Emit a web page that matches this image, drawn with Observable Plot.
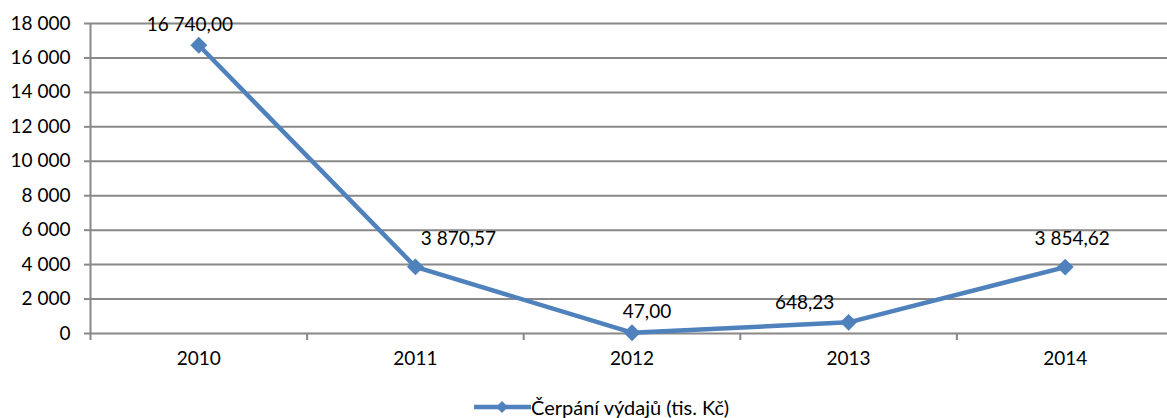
<!DOCTYPE html>
<html>
<head>
<meta charset="utf-8">
<script src="https://cdn.jsdelivr.net/npm/d3@7"></script>
<script src="https://cdn.jsdelivr.net/npm/@observablehq/plot@0.6"></script>
<style>
  html, body { margin: 0; padding: 0; background: #fff; overflow: hidden; }
  #chart svg { display: block; }
  #legend { position: relative; height: 28px; font-family: Lato, "Open Sans", sans-serif; font-size: 20px; color: #000; }
  #legend .item { position: absolute; left: 474px; top: 5px; display: flex; align-items: center; white-space: nowrap; }
</style>
</head>
<body>
<div id="chart"></div>
<div id="legend"><div class="item"><svg width="57" height="16" style="display:block"><line x1="0" y1="8" x2="57" y2="8" stroke="#4f81bd" stroke-width="4.5"/><path d="M28,2 L34,8 L28,14 L22,8 Z" fill="#4f81bd"/></svg><span>Čerpání výdajů (tis. Kč)</span></div></div>
<script>
const years = [2010, 2011, 2012, 2013, 2014];
const values = [16740.00, 3870.57, 47.00, 648.23, 3854.62];
const seriesName = "Čerpání výdajů (tis. Kč)";
const yTicks = [0, 2000, 4000, 6000, 8000, 10000, 12000, 14000, 16000, 18000];

const data = years.map((y, i) => ({year: y, value: values[i]}));
const cz = d3.formatLocale({decimal: ",", thousands: " ", grouping: [3], currency: ["", " Kč"]});
const fmtTick = cz.format(",.0f");
const fmtVal = cz.format(",.2f");
const blue = "#4f81bd";
const grid = "#888888";
const boundaries = [years[0] - 0.5, ...years.slice(0, -1).map(y => y + 0.5)];

// per-label offsets (styling, mirrors the manually placed labels)
const labelOffsets = [[-9, -20], [43, -28], [15, -21], [-44, -19], [7, -28]];

const labelMarks = data.map((d, i) => Plot.text([d], {
  x: "year", y: "value", text: d => fmtVal(d.value),
  dx: labelOffsets[i][0], dy: labelOffsets[i][1],
  fontSize: 19, fill: "#000"
}));

const chart = Plot.plot({
  width: 1167,
  height: 390,
  marginLeft: 90,
  marginRight: -6,
  marginTop: 23,
  marginBottom: 57,
  style: {fontFamily: "Lato, 'Open Sans', sans-serif", background: "#fff"},
  x: {type: "linear", domain: [years[0] - 0.5, years[years.length - 1] + 0.5]},
  y: {domain: [0, 18000]},
  marks: [
    Plot.gridY(yTicks, {stroke: grid, strokeOpacity: 1, strokeWidth: 2}),
    Plot.ruleX([years[0] - 0.5], {y1: 0, y2: 18000, stroke: grid, strokeWidth: 2}),
    Plot.axisY({ticks: yTicks, tickFormat: fmtTick, tickSize: 6, tickPadding: 14, stroke: grid, strokeWidth: 2, fontSize: 19, color: "#000", label: null}),
    Plot.axisX({ticks: boundaries, tickFormat: () => "", tickSize: 7, stroke: grid, strokeWidth: 2, label: null}),
    Plot.axisX({ticks: years, tickFormat: d => String(d), tickSize: 0, tickPadding: 18, fontSize: 19, color: "#000", label: null}),
    Plot.line(data, {x: "year", y: "value", stroke: blue, strokeWidth: 4.5}),
    Plot.dot(data, {x: "year", y: "value", symbol: "diamond2", r: 7.6, fill: blue, stroke: "none"}),
    ...labelMarks
  ]
});
document.getElementById("chart").appendChild(chart);
</script>
</body>
</html>
